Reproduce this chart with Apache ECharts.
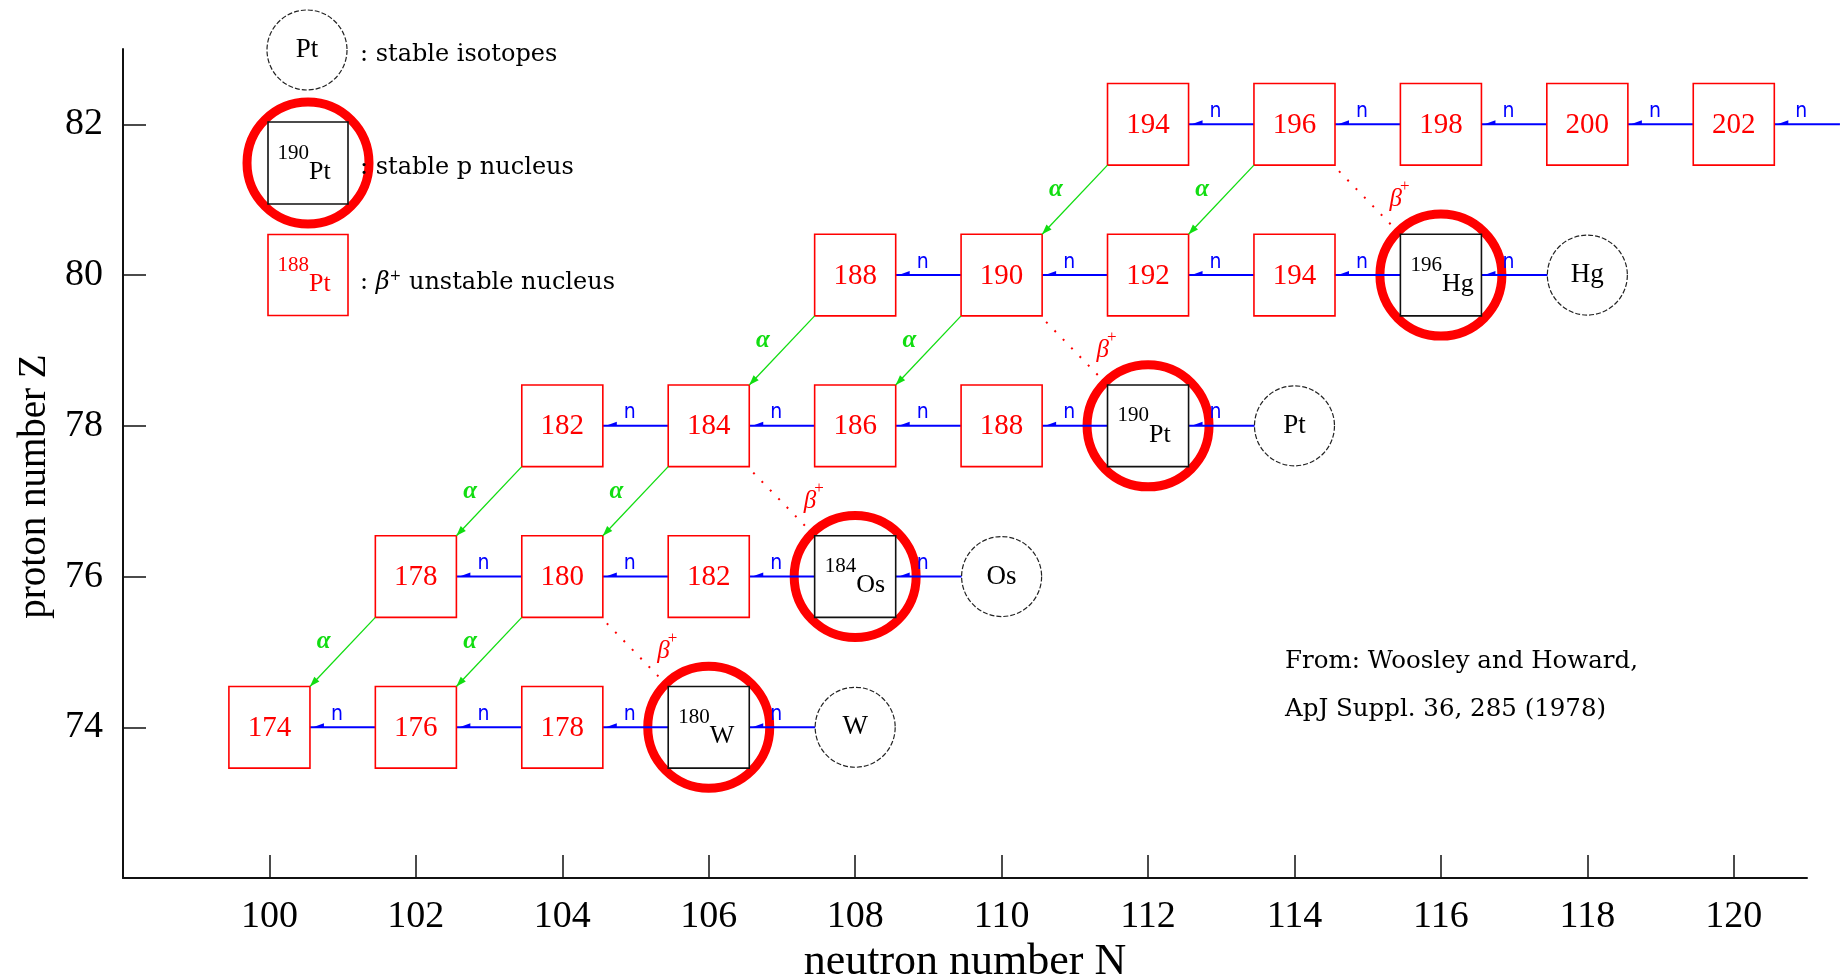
<!DOCTYPE html>
<html>
<head>
<meta charset="utf-8">
<title>p-process path near Pt</title>
<script src="https://cdn.jsdelivr.net/npm/echarts@6/dist/echarts.min.js"></script>
<style>
  html, body { margin: 0; padding: 0; background: #fff; }
  #chart { width: 1842px; height: 978px; }
</style>
</head>
<body>
<div id="chart"></div>
<script>
// ---- data -------------------------------------------------------------
// beta+ unstable nuclei: [N, Z, A]
const unstableNuclei = [
  [100, 74, 174], [102, 74, 176], [104, 74, 178],
  [102, 76, 178], [104, 76, 180], [106, 76, 182],
  [104, 78, 182], [106, 78, 184], [108, 78, 186], [110, 78, 188],
  [108, 80, 188], [110, 80, 190], [112, 80, 192], [114, 80, 194],
  [112, 82, 194], [114, 82, 196], [116, 82, 198], [118, 82, 200], [120, 82, 202]
];
// stable p nuclei: [N, Z, A, symbol]
const pNuclei = [
  [106, 74, 180, 'W'], [108, 76, 184, 'Os'], [112, 78, 190, 'Pt'], [116, 80, 196, 'Hg']
];
// stable isotopes: [N, Z, symbol]
const stableIsotopes = [
  [108, 74, 'W'], [110, 76, 'Os'], [114, 78, 'Pt'], [118, 80, 'Hg']
];
// neutron links (gamma,n): [N from, N to, Z]
const neutronLinks = [
  [100, 102, 74], [102, 104, 74], [104, 106, 74], [106, 108, 74],
  [102, 104, 76], [104, 106, 76], [106, 108, 76], [108, 110, 76],
  [104, 106, 78], [106, 108, 78], [108, 110, 78], [110, 112, 78], [112, 114, 78],
  [108, 110, 80], [110, 112, 80], [112, 114, 80], [114, 116, 80], [116, 118, 80],
  [112, 114, 82], [114, 116, 82], [116, 118, 82], [118, 120, 82], [120, 121.45, 82]
];
// alpha decays, parent [N, Z] -> daughter [N-2, Z-2]
const alphaDecays = [
  [112, 82], [114, 82], [108, 80], [110, 80], [104, 78], [106, 78], [102, 76], [104, 76]
];
// beta+ decays, parent [N, Z] -> daughter [N+2, Z-2]
const betaDecays = [[114, 82], [110, 80], [106, 78], [104, 76]];

const xTicks = [100, 102, 104, 106, 108, 110, 112, 114, 116, 118, 120];
const yTicks = [74, 76, 78, 80, 82];

// ---- styles -----------------------------------------------------------
const RED = '#ff0000';
const BLUE = '#0000ff';
const GREEN = '#11dd11';
const SERIF = '"Liberation Serif", "Times New Roman", serif';
const TEXT_FONT = '"DejaVu Serif", serif';
const BOX_W = 1.107;   // box size in axis units
const BOX_H = 1.083;
const RING_R = 61;
const CIRCLE_R = 40;

// ---- element helpers --------------------------------------------------
function boxEl(cx, cy, w, h, color) {
  return {
    type: 'rect',
    shape: { x: cx - w / 2, y: cy - h / 2, width: w, height: h },
    style: { fill: '#fff', stroke: color, lineWidth: 1.6 }
  };
}

function isoLabel(cx, cy, mass, sym, color) {
  return [
    { type: 'text', style: { text: String(mass), x: cx + 1, y: cy - 10, align: 'right', verticalAlign: 'middle',
      font: '21px ' + SERIF, fill: color } },
    { type: 'text', style: { text: sym, x: cx + 1, y: cy + 9, align: 'left', verticalAlign: 'middle',
      font: '26px ' + SERIF, fill: color } }
  ];
}

function ringEl(cx, cy) {
  return {
    type: 'circle',
    shape: { cx: cx, cy: cy, r: RING_R },
    style: { fill: 'none', stroke: RED, lineWidth: 9 }
  };
}

function stableEl(cx, cy, sym) {
  return [
    { type: 'circle', shape: { cx: cx, cy: cy, r: CIRCLE_R },
      style: { fill: '#fff', stroke: '#222', lineWidth: 1.2, lineDash: [5, 2] } },
    { type: 'text', style: { text: sym, x: cx, y: cy, align: 'center', verticalAlign: 'middle',
      font: '27px ' + SERIF, fill: '#000' } }
  ];
}

function arrowHead(tip, from, len, half, color) {
  const dx = tip[0] - from[0], dy = tip[1] - from[1];
  const l = Math.sqrt(dx * dx + dy * dy);
  const ux = dx / l, uy = dy / l;
  const bx = tip[0] - ux * len, by = tip[1] - uy * len;
  return {
    type: 'polygon',
    shape: { points: [tip, [bx - uy * half, by + ux * half], [bx + uy * half, by - ux * half]] },
    style: { fill: color }
  };
}

// ---- render functions -------------------------------------------------
function renderUnstable(params, api) {
  const d = unstableNuclei[params.dataIndex];
  const c = api.coord([d[0], d[1]]);
  const s = api.size([1, 1]);
  return {
    type: 'group',
    children: [
      boxEl(c[0], c[1], BOX_W * s[0], BOX_H * s[1], RED),
      { type: 'text', style: { text: String(d[2]), x: c[0], y: c[1] + 1, align: 'center', verticalAlign: 'middle',
        font: '29px ' + SERIF, fill: RED } }
    ]
  };
}

function renderPNucleus(params, api) {
  const d = pNuclei[params.dataIndex];
  const c = api.coord([d[0], d[1]]);
  const s = api.size([1, 1]);
  return {
    type: 'group',
    children: [boxEl(c[0], c[1], BOX_W * s[0], BOX_H * s[1], '#111')].concat(isoLabel(c[0], c[1], d[2], d[3], '#000'))
  };
}

function renderRing(params, api) {
  const d = pNuclei[params.dataIndex];
  const c = api.coord([d[0], d[1]]);
  return ringEl(c[0], c[1]);
}

function renderStable(params, api) {
  const d = stableIsotopes[params.dataIndex];
  const c = api.coord([d[0], d[1]]);
  return { type: 'group', children: stableEl(c[0], c[1], d[2]) };
}

function renderNeutron(params, api) {
  const d = neutronLinks[params.dataIndex];
  const a = api.coord([d[0], d[2]]);
  const b = api.coord([d[1], d[2]]);
  const s = api.size([1, 1]);
  const x0 = a[0] + BOX_W * s[0] / 2;
  return {
    type: 'group',
    children: [
      { type: 'line', shape: { x1: a[0], y1: a[1], x2: b[0], y2: b[1] }, style: { stroke: BLUE, lineWidth: 2 } },
      { type: 'polygon', shape: { points: [[x0 + 3, a[1]], [x0 + 14, a[1] - 4], [x0 + 14, a[1]]] }, style: { fill: BLUE } },
      { type: 'text', style: { text: 'n', x: x0 + 27, y: a[1] - 13, align: 'center', verticalAlign: 'middle',
        font: '21px "DejaVu Sans Condensed", "DejaVu Sans", sans-serif', fill: BLUE } }
    ]
  };
}

function renderAlpha(params, api) {
  const d = alphaDecays[params.dataIndex];
  const p = api.coord([d[0], d[1]]);
  const q = api.coord([d[0] - 2, d[1] - 2]);
  const s = api.size([1, 1]);
  const hw = BOX_W * s[0] / 2, hh = BOX_H * s[1] / 2;
  const start = [p[0] - hw, p[1] + hh];
  const end = [q[0] + hw, q[1] - hh];
  const mx = (start[0] + end[0]) / 2, my = (start[1] + end[1]) / 2;
  return {
    type: 'group',
    children: [
      { type: 'line', shape: { x1: start[0], y1: start[1], x2: end[0], y2: end[1] }, style: { stroke: GREEN, lineWidth: 1.3 } },
      arrowHead(end, start, 10, 3.5, GREEN),
      { type: 'text', style: { text: 'α', x: mx - 19, y: my - 10, align: 'center', verticalAlign: 'middle',
        font: 'italic bold 25px ' + SERIF, fill: GREEN } }
    ]
  };
}

function renderBeta(params, api) {
  const d = betaDecays[params.dataIndex];
  const p = api.coord([d[0], d[1]]);
  const q = api.coord([d[0] + 2, d[1] - 2]);
  const s = api.size([1, 1]);
  const hw = BOX_W * s[0] / 2, hh = BOX_H * s[1] / 2;
  const start = [p[0] + hw + 4, p[1] + hh + 6];
  const end = [q[0] - hw, q[1] - hh];
  const mx = (start[0] + end[0]) / 2, my = (start[1] + end[1]) / 2;
  return {
    type: 'group',
    children: [
      { type: 'line', shape: { x1: start[0], y1: start[1], x2: end[0], y2: end[1] },
        style: { stroke: RED, lineWidth: 2, lineDash: [2, 10] } },
      { type: 'text', style: { text: 'β', x: mx + 26, y: my - 3, align: 'center', verticalAlign: 'middle',
        font: 'italic 25px ' + SERIF, fill: RED } },
      { type: 'text', style: { text: '+', x: mx + 35, y: my - 16, align: 'center', verticalAlign: 'middle',
        font: '17px ' + SERIF, fill: RED } }
    ]
  };
}

function customSeries(name, rows, renderItem, z) {
  return {
    type: 'custom',
    name: name,
    coordinateSystem: 'cartesian2d',
    clip: false,
    silent: true,
    z: z,
    data: rows.map(function (r) { return [r[0], r[1]]; }),
    renderItem: renderItem
  };
}

// ---- legend (drawn at fixed place, top left) --------------------------
function legendText(x, y, rich) {
  return {
    type: 'text',
    style: {
      text: rich, x: x, y: y, verticalAlign: 'middle',
      font: '24px ' + TEXT_FONT, fill: '#000',
      rich: {
        b: { font: 'italic 24px ' + TEXT_FONT, fill: '#000' },
        s: { font: '14px ' + TEXT_FONT, fill: '#000', verticalAlign: 'top', padding: [0, 0, 14, 0] }
      }
    }
  };
}

const legendElements = [].concat(
  stableEl(307, 50, 'Pt'),
  [legendText(360, 55, ': stable isotopes')],
  [ringEl(308, 163), boxEl(308, 163, 80, 82, '#111')],
  isoLabel(308, 163, 190, 'Pt', '#000'),
  [legendText(360, 168, ': stable p nucleus')],
  [boxEl(308, 275, 80, 81, RED)],
  isoLabel(308, 275, 188, 'Pt', RED),
  [legendText(360, 283, ': {b|β}{s|+} unstable nucleus')],
  [
    { type: 'text', style: { text: 'From: Woosley and Howard,', x: 1285, y: 662, verticalAlign: 'middle',
      font: '24.5px ' + TEXT_FONT, fill: '#000' } },
    { type: 'text', style: { text: 'ApJ Suppl. 36, 285 (1978)', x: 1285, y: 710, verticalAlign: 'middle',
      font: '24.5px ' + TEXT_FONT, fill: '#000' } }
  ]
);

// ---- chart ------------------------------------------------------------
const chart = echarts.init(document.getElementById('chart'));

const option = {
  backgroundColor: '#fff',
  animation: false,
  grid: { left: 123, right: 35, top: 49, bottom: 100, outerBoundsMode: 'none', containLabel: false },
  xAxis: {
    type: 'value',
    min: 98,
    max: 121,
    name: 'neutron number N',
    nameLocation: 'middle',
    nameGap: 60,
    nameTextStyle: { fontFamily: SERIF, fontSize: 44, color: '#000' },
    axisLine: { show: true, lineStyle: { color: '#111', width: 2 } },
    axisTick: { show: true, inside: true, length: 23, customValues: xTicks, lineStyle: { color: '#111', width: 1.5 } },
    axisLabel: { customValues: xTicks, margin: 20, fontFamily: SERIF, fontSize: 38, color: '#000' },
    splitLine: { show: false }
  },
  yAxis: {
    type: 'value',
    min: 72,
    max: 83,
    name: 'proton number Z',
    nameLocation: 'middle',
    nameGap: 66,
    nameTextStyle: { fontFamily: SERIF, fontSize: 39, color: '#000', padding: [0, 46, 0, 0] },
    axisLine: { show: true, lineStyle: { color: '#111', width: 2 } },
    axisTick: { show: true, inside: true, length: 23, customValues: yTicks, lineStyle: { color: '#111', width: 1.5 } },
    axisLabel: { customValues: yTicks, margin: 20, fontFamily: SERIF, fontSize: 38, color: '#000' },
    splitLine: { show: false }
  },
  graphic: { elements: legendElements },
  series: [
    customSeries('beta+', betaDecays, renderBeta, 1),
    customSeries('rings', pNuclei, renderRing, 2),
    customSeries('neutron', neutronLinks.map(function (r) { return [r[0], r[2]]; }), renderNeutron, 3),
    customSeries('unstable', unstableNuclei, renderUnstable, 4),
    customSeries('p nuclei', pNuclei, renderPNucleus, 4),
    customSeries('stable', stableIsotopes, renderStable, 4),
    customSeries('alpha', alphaDecays, renderAlpha, 5)
  ]
};

chart.setOption(option);
window.addEventListener('resize', function () { chart.resize(); });
</script>
</body>
</html>
